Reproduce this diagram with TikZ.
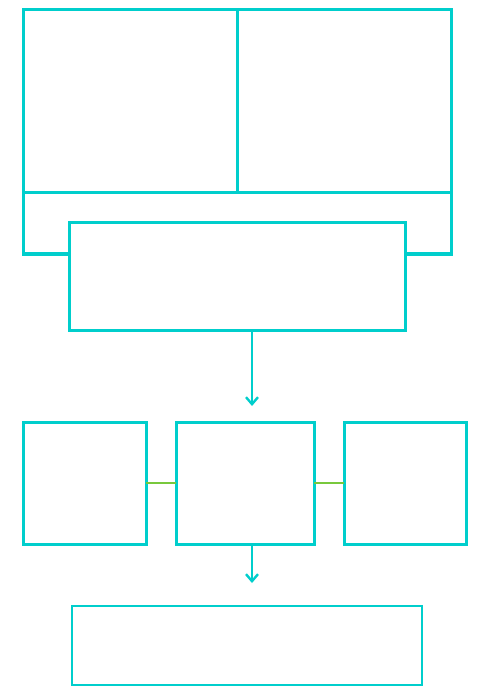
\documentclass[tikz,border=0pt]{standalone}
\usetikzlibrary{arrows.meta}
\definecolor{tq}{RGB}{0,206,204}
\definecolor{lnk}{RGB}{120,200,60}
\tikzset{
  box/.style={draw=tq, line width=3pt, inner sep=0pt, outer sep=0pt, anchor=north west},
  thinbox/.style={draw=tq, line width=2pt, inner sep=0pt, outer sep=0pt, anchor=north west},
  flow/.style={draw=tq, line width=1.3pt, -{Straight Barb[length=7pt,width=12pt,line width=2.4pt]}},
  link/.style={draw=lnk, line width=1.2pt}
}
\begin{document}
\begin{tikzpicture}[x=1pt,y=-1pt]
\useasboundingbox (0,0) rectangle (489,700);
% top frame
\draw[draw=tq, line width=3pt] (69,254) -- (23,254) -- (23,10) -- (451,10) -- (451,254) -- (405,254);
\draw[draw=tq, line width=3pt] (23,193) -- (451,193);
\draw[draw=tq, line width=3pt] (237,10) -- (237,193);
% middle box
\node[box, minimum width=336pt, minimum height=107pt] (mid) at (69,223) {};
% row
\node[box, minimum width=123pt, minimum height=122pt] (l) at (23,422) {};
\node[box, minimum width=138pt, minimum height=122pt] (c) at (176,422) {};
\node[box, minimum width=122pt, minimum height=122pt] (r) at (344,422) {};
% bottom box
\node[thinbox, minimum width=350pt, minimum height=79pt] (b) at (72,606) {};
% connectors
\coordinate (a1) at (252,406);
\draw[flow] (mid.south -| a1) -- (a1);
\coordinate (a2) at (252,583);
\draw[flow] (c.south -| a2) -- (a2);
\draw[link] (l.east) -- (c.west);
\draw[link] (c.east) -- (r.west);
\end{tikzpicture}
\end{document}
